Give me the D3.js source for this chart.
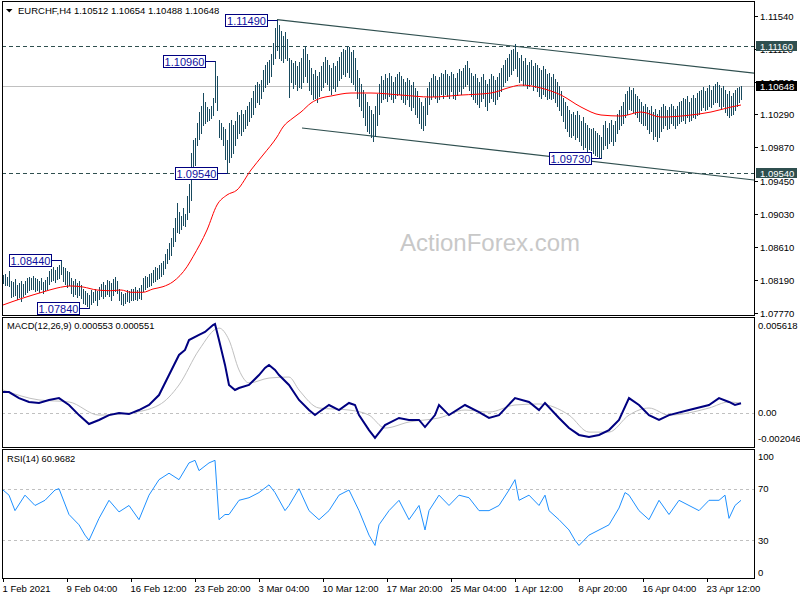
<!DOCTYPE html>
<html><head><meta charset="utf-8">
<script src="https://cdn.jsdelivr.net/npm/d3@7"></script>
<style>body{margin:0;background:#fff} svg{display:block} text{font-family:"Liberation Sans",Arial,sans-serif}</style>
</head><body><svg id="c" width="800" height="600"></svg>
<script>
const symbolName = "EURCHF,H4";
const lastOHLC = ["1.10512","1.10654","1.10488","1.10648"];
const lastPrice = 1.10648;
const barHigh = [
1.0825,1.0826,1.0823,1.0830,1.0818,1.0816,1.0820,1.0812,1.0815,1.0817,
1.0814,1.0818,1.0822,1.0823,1.0821,1.0824,1.0822,1.0820,1.0818,1.0821,
1.0816,1.0819,1.0823,1.0830,1.0833,1.0835,1.0832,1.0836,1.0838,1.0844,
1.0836,1.0834,1.0830,1.0829,1.0821,1.0818,1.0820,1.0815,1.0817,1.0813,
1.0807,1.0805,1.0802,1.0800,1.0806,1.0804,1.0808,1.0805,1.0810,1.0814,
1.0816,1.0813,1.0819,1.0817,1.0815,1.0820,1.0823,1.0818,1.0808,1.0804,
1.0801,1.0803,1.0806,1.0805,1.0808,1.0807,1.0810,1.0806,1.0809,1.0812,
1.0822,1.0824,1.0823,1.0826,1.0828,1.0832,1.0835,1.0834,1.0838,1.0840,
1.0843,1.0852,1.0858,1.0866,1.0872,1.0885,1.0898,1.0916,1.0905,1.0900,
1.0910,1.0903,1.0925,1.0940,1.0980,1.0996,1.0999,1.1018,1.1032,1.1040,
1.1056,1.1045,1.1038,1.1036,1.1039,1.1050,1.1096,1.1077,1.1022,1.1018,
1.1013,1.1010,1.0997,1.1018,1.1022,1.1015,1.1020,1.1032,1.1028,1.1035,
1.1030,1.1035,1.1040,1.1045,1.1050,1.1058,1.1066,1.1070,1.1068,1.1072,
1.1085,1.1092,1.1095,1.1098,1.1105,1.1120,1.1138,1.1149,1.1142,1.1135,
1.1128,1.1133,1.1125,1.1100,1.1098,1.1094,1.1097,1.1090,1.1095,1.1100,
1.1112,1.1116,1.1105,1.1098,1.1088,1.1080,1.1085,1.1078,1.1083,1.1090,
1.1095,1.1102,1.1098,1.1092,1.1088,1.1094,1.1090,1.1096,1.1102,1.1108,
1.1112,1.1110,1.1116,1.1114,1.1108,1.1110,1.1100,1.1085,1.1075,1.1068,
1.1060,1.1055,1.1045,1.1040,1.1035,1.1030,1.1040,1.1055,1.1068,1.1078,
1.1072,1.1080,1.1075,1.1082,1.1078,1.1070,1.1076,1.1080,1.1083,1.1078,
1.1074,1.1070,1.1075,1.1072,1.1066,1.1070,1.1062,1.1058,1.1050,1.1045,
1.1040,1.1050,1.1062,1.1070,1.1075,1.1080,1.1078,1.1072,1.1076,1.1082,
1.1080,1.1085,1.1080,1.1078,1.1083,1.1080,1.1075,1.1082,1.1086,1.1084,
1.1088,1.1092,1.1096,1.1088,1.1082,1.1078,1.1080,1.1075,1.1070,1.1076,
1.1080,1.1072,1.1068,1.1074,1.1080,1.1078,1.1072,1.1076,1.1082,1.1088,
1.1092,1.1098,1.1100,1.1106,1.1110,1.1112,1.1118,1.1108,1.1100,1.1104,
1.1096,1.1100,1.1092,1.1095,1.1098,1.1090,1.1094,1.1092,1.1088,1.1085,
1.1090,1.1086,1.1080,1.1082,1.1076,1.1080,1.1074,1.1070,1.1065,1.1058,
1.1050,1.1045,1.1040,1.1035,1.1030,1.1032,1.1028,1.1033,1.1028,1.1020,
1.1025,1.1018,1.1015,1.1012,1.1010,1.1012,1.1008,1.1005,1.1003,1.1000,
1.1015,1.1020,1.1012,1.1018,1.1022,1.1016,1.1020,1.1030,1.1035,1.1040,
1.1045,1.1055,1.1058,1.1064,1.1060,1.1062,1.1055,1.1052,1.1048,1.1045,
1.1040,1.1042,1.1038,1.1035,1.1040,1.1032,1.1036,1.1030,1.1034,1.1038,
1.1042,1.1040,1.1035,1.1038,1.1042,1.1040,1.1036,1.1040,1.1044,1.1046,
1.1050,1.1048,1.1052,1.1045,1.1050,1.1054,1.1050,1.1056,1.1058,1.1060,
1.1064,1.1058,1.1062,1.1066,1.1060,1.1065,1.1068,1.1070,1.1066,1.1062,
1.1065,1.1060,1.1055,1.1058,1.1052,1.1056,1.1060,1.1062,1.1064,1.10654];
const barLow = [
1.0815,1.0812,1.0813,1.0811,1.0797,1.0799,1.0800,1.0795,1.0797,1.0792,
1.0798,1.0801,1.0804,1.0806,1.0808,1.0807,1.0805,1.0806,1.0804,1.0807,
1.0803,1.0806,1.0808,1.0814,1.0818,1.0819,1.0816,1.0820,1.0822,1.0826,
1.0818,1.0814,1.0810,1.0812,1.0803,1.0799,1.0801,1.0797,1.0800,1.0796,
1.0790,1.0789,1.0786,1.0784,1.0789,1.0791,1.0793,1.0787,1.0795,1.0798,
1.0796,1.0799,1.0801,1.0798,1.0794,1.0800,1.0805,1.0802,1.0793,1.0789,
1.0787,1.0790,1.0792,1.0791,1.0794,1.0793,1.0795,1.0793,1.0796,1.0795,
1.0805,1.0808,1.0810,1.0811,1.0813,1.0816,1.0818,1.0820,1.0822,1.0824,
1.0826,1.0834,1.0840,1.0846,1.0850,1.0862,1.0868,1.0880,1.0878,1.0884,
1.0889,1.0887,1.0896,1.0905,1.0920,1.0952,1.0965,1.0990,1.0998,1.1005,
1.1015,1.1018,1.1020,1.1022,1.1024,1.1028,1.1045,1.1034,1.1000,1.0998,
1.0990,1.0972,1.0954,1.0968,1.0975,1.0980,1.0990,1.0999,1.1005,1.1003,
1.1008,1.1012,1.1015,1.1020,1.1025,1.1030,1.1038,1.1045,1.1042,1.1050,
1.1058,1.1063,1.1068,1.1070,1.1078,1.1093,1.1100,1.1110,1.1100,1.1098,
1.1095,1.1100,1.1098,1.1051,1.1070,1.1062,1.1068,1.1060,1.1064,1.1062,
1.1070,1.1078,1.1070,1.1060,1.1055,1.1048,1.1050,1.1045,1.1052,1.1060,
1.1064,1.1070,1.1068,1.1060,1.1055,1.1062,1.1058,1.1065,1.1072,1.1075,
1.1080,1.1078,1.1083,1.1076,1.1070,1.1068,1.1060,1.1050,1.1040,1.1035,
1.1025,1.1015,1.1008,1.1005,1.1000,1.0995,1.1002,1.1015,1.1030,1.1045,
1.1048,1.1050,1.1046,1.1052,1.1049,1.1044,1.1050,1.1053,1.1055,1.1048,
1.1045,1.1042,1.1048,1.1040,1.1035,1.1038,1.1030,1.1025,1.1018,1.1012,
1.1009,1.1015,1.1030,1.1042,1.1048,1.1052,1.1050,1.1045,1.1048,1.1055,
1.1050,1.1055,1.1052,1.1050,1.1058,1.1050,1.1048,1.1054,1.1058,1.1055,
1.1062,1.1065,1.1068,1.1060,1.1052,1.1048,1.1045,1.1042,1.1038,1.1046,
1.1050,1.1040,1.1035,1.1044,1.1050,1.1046,1.1042,1.1048,1.1052,1.1058,
1.1065,1.1070,1.1072,1.1078,1.1080,1.1085,1.1088,1.1078,1.1070,1.1072,
1.1066,1.1068,1.1062,1.1065,1.1068,1.1060,1.1064,1.1058,1.1052,1.1050,
1.1055,1.1052,1.1048,1.1050,1.1048,1.1050,1.1045,1.1040,1.1035,1.1028,
1.1020,1.1012,1.1008,1.1002,1.1000,1.1003,1.0998,1.1000,1.0995,1.0990,
1.0985,1.0988,1.0982,1.0985,1.0984,1.0980,1.0978,1.0976,1.0975,1.0973,
1.0985,1.0990,1.0986,1.0992,1.0995,1.0990,1.0995,1.1005,1.1010,1.1015,
1.1018,1.1025,1.1030,1.1036,1.1035,1.1032,1.1030,1.1025,1.1020,1.1018,
1.1015,1.1016,1.1010,1.1005,1.1008,1.0998,1.1002,1.0995,1.1000,1.1008,
1.1012,1.1015,1.1010,1.1012,1.1018,1.1015,1.1012,1.1016,1.1018,1.1020,
1.1022,1.1018,1.1025,1.1020,1.1022,1.1026,1.1024,1.1028,1.1030,1.1035,
1.1038,1.1034,1.1036,1.1040,1.1038,1.1042,1.1044,1.1045,1.1040,1.1036,
1.1040,1.1032,1.1028,1.1025,1.1028,1.1030,1.1034,1.1040,1.1045,1.10488];

const maIdx = [0,10,20,27,34,40,47,54,59,64,70,75,80,85,92,95,102,107,112,117,124,130,137,140,145,149,154,159,164,174,184,199,214,229,244,254,259,269,279,289,299,309,319,329,344,354,364,369];
const maVal = [1.07872,1.07960,1.08037,1.08087,1.08113,1.08100,1.08062,1.08053,1.08062,1.08033,1.08033,1.08075,1.08104,1.08167,1.08357,1.08484,1.08823,1.09140,1.09267,1.09330,1.09584,1.09774,1.10003,1.10129,1.10243,1.10319,1.10433,1.10496,1.10522,1.10560,1.10560,1.10534,1.10509,1.10534,1.10560,1.10636,1.10661,1.10623,1.10534,1.10382,1.10281,1.10268,1.10319,1.10255,1.10281,1.10319,1.10382,1.10408];

const macdIdx = [0,3,8,13,18,23,28,33,38,43,48,53,58,63,68,73,78,83,88,91,93,98,101,105,106,108,111,113,116,118,123,128,131,133,136,138,143,148,153,156,158,163,168,173,176,178,183,186,191,198,203,208,211,216,218,223,231,238,243,248,256,263,268,271,278,283,288,293,298,303,308,313,318,323,328,333,343,353,358,363,366,369];
const macdVal = [0.00122,0.00122,0.00086,0.00063,0.00057,0.00075,0.00086,0.00045,-0.00015,-0.00068,-0.00044,-0.00015,-0.00003,-0.00009,0.00015,0.00045,0.00104,0.00223,0.00342,0.00372,0.00431,0.00461,0.00479,0.00520,0.00526,0.00431,0.00283,0.00164,0.00134,0.00146,0.00164,0.00223,0.00265,0.00283,0.00253,0.00223,0.00164,0.00075,0.00015,-0.00015,0.00003,0.00045,0.00015,0.00057,0.00045,-0.00015,-0.00104,-0.00151,-0.00074,-0.00032,-0.00044,-0.00044,-0.00086,-0.00015,0.00045,-0.00015,0.00045,0.00003,-0.00032,-0.00015,0.00086,0.00063,0.00015,0.00057,-0.00032,-0.00092,-0.00133,-0.00145,-0.00133,-0.00104,-0.00044,0.00086,0.00045,-0.00015,-0.00044,-0.00015,0.00015,0.00045,0.00086,0.00063,0.00045,0.000553];
const sigIdx = [0,18,33,48,63,78,88,98,108,113,118,123,133,143,148,158,173,183,191,203,218,231,243,256,268,283,293,303,313,323,333,353,363,369];
const sigVal = [0.00134,0.00075,0.00063,-0.00015,-0.00003,0.00045,0.00164,0.00372,0.00502,0.00431,0.00253,0.00176,0.00205,0.00211,0.00134,0.00027,0.00015,-0.00015,-0.00092,-0.00056,-0.00032,0.00015,0.00003,0.00045,0.00051,-0.00015,-0.00116,-0.00116,-0.00015,0.00027,-0.00015,0.00027,0.00063,0.000551];

const rsiIdx = [0,3,6,11,16,21,26,28,33,38,41,43,48,53,58,63,68,73,78,83,88,93,96,98,103,106,108,111,113,118,123,128,133,136,141,143,148,153,158,163,168,173,178,183,186,188,193,198,203,208,211,213,218,223,228,233,238,243,248,253,256,258,263,268,271,273,278,283,286,288,293,298,303,308,311,313,318,323,328,333,338,343,348,353,358,361,363,366,369];
const rsiVal = [69,65,53,65,57,61,69,70,50,42,34,30,47,61,52,57,46,65,77,82,77,90,92,84,90,92,46,50,50,61,63,67,73,67,53,57,70,53,46,53,65,69,53,34,26,42,53,61,46,57,38,53,65,57,65,63,53,53,57,69,77,61,65,57,65,53,46,38,30,26,34,38,42,55,67,65,53,46,61,50,61,57,53,61,61,65,47,57,60.9682];

const xTickIdx = [0,32,64,96,128,160,192,224,256,288,320,352];
const xTickLabels = ["1 Feb 2021","9 Feb 04:00","16 Feb 12:00","23 Feb 20:00","3 Mar 04:00","10 Mar 12:00","17 Mar 20:00","25 Mar 04:00","1 Apr 12:00","8 Apr 20:00","16 Apr 04:00","23 Apr 12:00"];
const priceTicks = [1.1154,1.1112,1.1070,1.1029,1.0987,1.0945,1.0903,1.0861,1.0819,1.0777];
const priceTickLabels = ["1.11540","1.11120","1.10700","1.10290","1.09870","1.09450","1.09030","1.08610","1.08190","1.07770"];
const levelPrices = [1.1116, 1.0954];
const levelLabels = ["1.11160","1.09540"];
const annIdx = [137,106,112,29,43,299];
const annPrice = [1.1149,1.1096,1.0954,1.0844,1.0784,1.0973];
const annLabels = ["1.11490","1.10960","1.09540","1.08440","1.07840","1.09730"];
const trendStartIdx = [137,149.5];
const trendStartPrice = [1.1149,1.10116];
const trendEndIdx = [375.5,375.5];
const trendEndPrice = [1.10813,1.09457];
const macdTickVals = [0.005618,0,-0.002046];
const macdTickLabels = ["0.005618","0.00","-0.002046"];
const rsiTickVals = [100,70,30,0];
const rsiLevels = [70,30];

const svg = d3.select("#c");
const L = 2, R = 754;
const P = {t:1,b:315}, M = {t:317,b:447}, Q = {t:449,b:578};
const x = d3.scaleLinear().domain([0,369]).range([3,741]);
const yP = d3.scaleLinear().domain([1.07745,1.11714]).range([315,2]);
const yM = d3.scaleLinear().domain([-0.002046,0.005618]).range([447,318]);
const yR = d3.scaleLinear().domain([0,100]).range([579,450]);
const px = v => Math.round(v) + 0.5;

const defs = svg.append("defs");
[["cp",P],["cm",M],["cr",Q]].forEach(([id,p]) => {
  defs.append("clipPath").attr("id",id).append("rect").attr("x",L).attr("y",p.t).attr("width",R-L).attr("height",p.b-p.t);
});

// ---------- PRICE PANEL ----------
const gp = svg.append("g").attr("clip-path","url(#cp)");
svg.append("text").attr("x",490).attr("y",251).attr("text-anchor","middle")
  .attr("font-size",24).attr("fill","#c8c8c8").text("ActionForex.com");
gp.append("line").attr("x1",L).attr("x2",R).attr("y1",px(yP(lastPrice))).attr("y2",px(yP(lastPrice)))
  .attr("stroke","#c0c0c0").attr("stroke-width",1);
gp.selectAll("line.lvl").data(levelPrices).join("line").attr("class","lvl")
  .attr("x1",L).attr("x2",R).attr("y1",d=>px(yP(d))).attr("y2",d=>px(yP(d)))
  .attr("stroke","#2f4f4f").attr("stroke-dasharray","4,3");
gp.selectAll("line.tr").data(trendStartIdx).join("line").attr("class","tr")
  .attr("x1",(d,i)=>x(d)).attr("y1",(d,i)=>yP(trendStartPrice[i]))
  .attr("x2",(d,i)=>x(trendEndIdx[i])).attr("y2",(d,i)=>yP(trendEndPrice[i]))
  .attr("stroke","#2f4f4f").attr("stroke-width",1.2);
gp.append("g").selectAll("line").data(barHigh).join("line")
  .attr("x1",(d,i)=>px(x(i))).attr("x2",(d,i)=>px(x(i)))
  .attr("y1",d=>Math.round(yP(d))).attr("y2",(d,i)=>Math.round(yP(barLow[i]))+1)
  .attr("stroke","#184a5e").attr("stroke-width",1).attr("shape-rendering","crispEdges");
gp.append("path").datum(maIdx).attr("fill","none").attr("stroke","#ff0000").attr("stroke-width",1)
  .attr("d", d3.line().x(d=>x(d)).y((d,i)=>yP(maVal[i])).curve(d3.curveMonotoneX));
const ga = svg.append("g");
annIdx.forEach((idx,i)=>{
  const bx = x(idx), by = Math.round(yP(annPrice[i]));
  const w = 42, h = 12, rx = Math.round(bx) - 10 - w;
  ga.append("line").attr("x1",rx+w).attr("x2",Math.round(bx)+0.5).attr("y1",by+0.5).attr("y2",by+0.5)
    .attr("stroke","#000080").attr("stroke-width",1);
  ga.append("rect").attr("x",rx+0.5).attr("y",by-6+0.5).attr("width",w).attr("height",h)
    .attr("fill","#fff").attr("stroke","#000080").attr("stroke-width",1);
  ga.append("text").attr("x",rx+w/2+0.5).attr("y",by+4.5).attr("text-anchor","middle")
    .attr("font-size",11).attr("fill","#1010a0").text(annLabels[i]);
});
svg.append("path").attr("d","M6,9 L12.5,9 L9.25,12.5 Z").attr("fill","#000");
svg.append("text").attr("x",18).attr("y",13.5).attr("font-size",9.5).attr("fill","#000")
  .text(symbolName + "  " + lastOHLC.join(" "));

// ---------- MACD PANEL ----------
const gm = svg.append("g").attr("clip-path","url(#cm)");
gm.append("line").attr("x1",L).attr("x2",R).attr("y1",px(yM(0))).attr("y2",px(yM(0)))
  .attr("stroke","#c0c0c0").attr("stroke-dasharray","3,3");
gm.append("path").datum(sigIdx).attr("fill","none").attr("stroke","#c0c0c0").attr("stroke-width",1)
  .attr("d", d3.line().x(d=>x(d)).y((d,i)=>yM(sigVal[i])).curve(d3.curveMonotoneX));
gm.append("path").datum(macdIdx).attr("fill","none").attr("stroke","#000080").attr("stroke-width",2)
  .attr("d", d3.line().x(d=>x(d)).y((d,i)=>yM(macdVal[i])));
svg.append("text").attr("x",7).attr("y",329).attr("font-size",9.3).attr("fill","#000")
  .text("MACD(12,26,9) 0.000553 0.000551");

// ---------- RSI PANEL ----------
const gr = svg.append("g").attr("clip-path","url(#cr)");
gr.selectAll("line.rl").data(rsiLevels).join("line").attr("class","rl")
  .attr("x1",L).attr("x2",R).attr("y1",d=>px(yR(d))).attr("y2",d=>px(yR(d)))
  .attr("stroke","#c0c0c0").attr("stroke-dasharray","3,3");
gr.append("path").datum(rsiIdx).attr("fill","none").attr("stroke","#1e90ff").attr("stroke-width",1)
  .attr("d", d3.line().x(d=>x(d)).y((d,i)=>yR(rsiVal[i])));
svg.append("text").attr("x",7).attr("y",462).attr("font-size",9.3).attr("fill","#000")
  .text("RSI(14) 60.9682");

// ---------- FRAMES ----------
[P,M,Q].forEach(p=>{
  svg.append("rect").attr("x",L+0.5).attr("y",p.t+0.5).attr("width",R-L).attr("height",p.b-p.t)
    .attr("fill","none").attr("stroke","#000").attr("stroke-width",1);
});

// ---------- AXES ----------
const ax = svg.append("g").attr("font-size",9.5).attr("fill","#000");
priceTicks.forEach((v,i)=>{
  const y = Math.round(yP(v));
  ax.append("line").attr("x1",R).attr("x2",R+4).attr("y1",y+0.5).attr("y2",y+0.5).attr("stroke","#000");
  ax.append("text").attr("x",760).attr("y",y+3.5).text(priceTickLabels[i]);
});
levelPrices.forEach((v,i)=>{
  const y = Math.round(yP(v));
  ax.append("rect").attr("x",756).attr("y",y-5).attr("width",41).attr("height",10).attr("fill","#2f4f4f");
  ax.append("text").attr("x",760).attr("y",y+3.5).attr("fill","#fff").text(levelLabels[i]);
});
{
  const y = Math.round(yP(lastPrice));
  ax.append("rect").attr("x",756).attr("y",y-5).attr("width",41).attr("height",10).attr("fill","#000");
  ax.append("text").attr("x",760).attr("y",y+3.5).attr("fill","#fff").text("1.10648");
}
macdTickVals.forEach((v,i)=>{
  const y = yM(v);
  const ty = i===0 ? y+11 : (i===2 ? y-5 : y+3.5);
  ax.append("text").attr("x",758).attr("y",ty).text(macdTickLabels[i]);
});
rsiTickVals.forEach(v=>{
  const y = yR(v);
  const ty = v===100 ? y+10 : (v===0 ? y-3 : y+3.5);
  ax.append("text").attr("x",758).attr("y",ty).text(v);
});
xTickIdx.forEach((idx,i)=>{
  const xx = px(x(idx));
  ax.append("line").attr("x1",xx).attr("x2",xx).attr("y1",Q.b).attr("y2",Q.b+4).attr("stroke","#000");
  ax.append("text").attr("x",xx-1).attr("y",592).text(xTickLabels[i]);
});
</script></body></html>
